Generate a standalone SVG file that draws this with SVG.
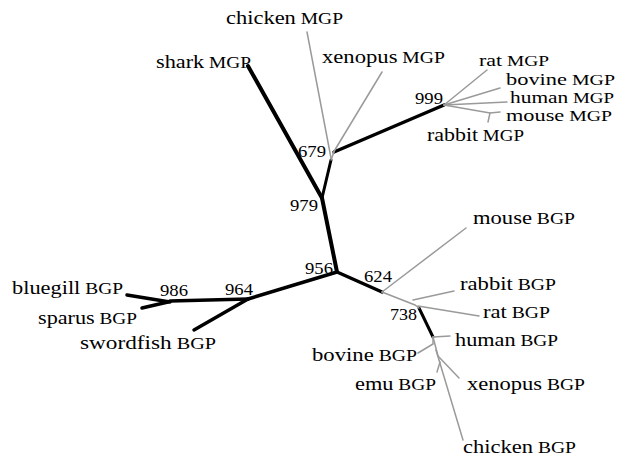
<svg xmlns="http://www.w3.org/2000/svg" width="617" height="460" viewBox="0 0 617 460">
  <style>
    text { font-family: "Liberation Serif", "Times New Roman", serif; fill: #000; }
    .sp { font-size: 19px; }
    .gp { font-size: 16.5px; }
    .stack .sp { font-size: 17.5px; }
    .stack .gp { font-size: 15.5px; }
    .bs { font-size: 16px; }
    .strong { stroke: #000; stroke-width: 3.5; stroke-linecap: round; fill: none; }
    .weak { stroke: #9a9a9a; stroke-width: 1.5; stroke-linecap: round; fill: none; }
  </style>
  <rect width="617" height="460" fill="#fff"/>

  <!-- tree branches -->
  <g id="connectors">
    <!-- strongly supported branches -->
    <line class="strong" x1="337" y1="272" x2="322" y2="198" style="stroke-width:4"/>
    <line class="strong" x1="322" y1="198" x2="248" y2="66" style="stroke-width:4"/>
    <line class="strong" x1="322" y1="198" x2="331" y2="160" style="stroke-width:3"/>
    <line class="strong" x1="334" y1="152" x2="444" y2="105"/>
    <line class="strong" x1="337" y1="272" x2="248" y2="299"/>
    <line class="strong" x1="248" y1="299" x2="170" y2="301"/>
    <line class="strong" x1="248" y1="299" x2="194" y2="330"/>
    <line class="strong" x1="170" y1="302" x2="127" y2="295"/>
    <line class="strong" x1="168" y1="302" x2="142" y2="308"/>
    <line class="strong" x1="337" y1="272" x2="382" y2="292"/>
    <line class="strong" x1="419" y1="308" x2="433" y2="337" style="stroke-width:3"/>

    <!-- MGP clade, weak branches -->
    <line class="weak" x1="331" y1="160" x2="334" y2="152"/>
    <line class="weak" x1="331" y1="158" x2="307" y2="32"/>
    <line class="weak" x1="333" y1="153" x2="382" y2="72"/>
    <line class="weak" x1="444" y1="105" x2="487" y2="70"/>
    <line class="weak" x1="444" y1="105" x2="500" y2="88"/>
    <line class="weak" x1="444" y1="105" x2="507" y2="102"/>
    <polyline class="weak" points="444,105 490,113 500,112"/>
    <line class="weak" x1="490" y1="113" x2="488" y2="122"/>

    <!-- BGP clade, weak branches -->
    <line class="weak" x1="382" y1="292" x2="466" y2="228"/>
    <polyline class="weak" points="382,292 415,305 419,308"/>
    <line class="weak" x1="413" y1="300" x2="454" y2="291"/>
    <line class="weak" x1="418" y1="306" x2="479" y2="316"/>
    <line class="weak" x1="433" y1="337" x2="450" y2="336"/>
    <polyline class="weak" points="433,337 433,344 418,353"/>
    <line class="weak" x1="433" y1="337" x2="438" y2="356"/>
    <line class="weak" x1="438" y1="356" x2="459" y2="378"/>
    <line class="weak" x1="436" y1="350" x2="463" y2="440"/>
    <line class="weak" x1="440" y1="362" x2="437" y2="372"/>
  </g>

  <!-- bootstrap values -->
  <g id="n999"><text class="bs" x="415" y="104" textLength="28" lengthAdjust="spacingAndGlyphs">999</text></g>
  <g id="n679"><text class="bs" x="298" y="157" textLength="28" lengthAdjust="spacingAndGlyphs">679</text></g>
  <g id="n979"><text class="bs" x="290" y="211" textLength="28" lengthAdjust="spacingAndGlyphs">979</text></g>
  <g id="n956"><text class="bs" x="305" y="274" textLength="28" lengthAdjust="spacingAndGlyphs">956</text></g>
  <g id="n624"><text class="bs" x="364" y="282" textLength="28" lengthAdjust="spacingAndGlyphs">624</text></g>
  <g id="n738"><text class="bs" x="390" y="320" textLength="27" lengthAdjust="spacingAndGlyphs">738</text></g>
  <g id="n986"><text class="bs" x="160" y="296" textLength="28" lengthAdjust="spacingAndGlyphs">986</text></g>
  <g id="n964"><text class="bs" x="225" y="295" textLength="28" lengthAdjust="spacingAndGlyphs">964</text></g>

  <!-- MGP sequences -->
  <g id="chicken-mgp"><text x="226" y="24" textLength="117" lengthAdjust="spacingAndGlyphs"><tspan class="sp">chicken</tspan><tspan class="gp"> MGP</tspan></text></g>
  <g id="shark-mgp"><text x="156" y="68" textLength="95" lengthAdjust="spacingAndGlyphs"><tspan class="sp">shark</tspan><tspan class="gp"> MGP</tspan></text></g>
  <g id="xenopus-mgp"><text x="322" y="63" textLength="123" lengthAdjust="spacingAndGlyphs"><tspan class="sp">xenopus</tspan><tspan class="gp"> MGP</tspan></text></g>
  <g id="rat-mgp" class="stack"><text x="479" y="66" textLength="70" lengthAdjust="spacingAndGlyphs"><tspan class="sp">rat</tspan><tspan class="gp"> MGP</tspan></text></g>
  <g id="bovine-mgp" class="stack"><text x="506" y="85" textLength="109" lengthAdjust="spacingAndGlyphs"><tspan class="sp">bovine</tspan><tspan class="gp"> MGP</tspan></text></g>
  <g id="human-mgp" class="stack"><text x="510" y="103" textLength="104" lengthAdjust="spacingAndGlyphs"><tspan class="sp">human</tspan><tspan class="gp"> MGP</tspan></text></g>
  <g id="mouse-mgp" class="stack"><text x="506" y="121" textLength="106" lengthAdjust="spacingAndGlyphs"><tspan class="sp">mouse</tspan><tspan class="gp"> MGP</tspan></text></g>
  <g id="rabbit-mgp"><text x="427" y="141" textLength="97" lengthAdjust="spacingAndGlyphs"><tspan class="sp">rabbit</tspan><tspan class="gp"> MGP</tspan></text></g>

  <!-- BGP sequences -->
  <g id="mouse-bgp"><text x="473" y="224" textLength="102" lengthAdjust="spacingAndGlyphs"><tspan class="sp">mouse</tspan><tspan class="gp"> BGP</tspan></text></g>
  <g id="rabbit-bgp"><text x="460" y="290" textLength="96" lengthAdjust="spacingAndGlyphs"><tspan class="sp">rabbit</tspan><tspan class="gp"> BGP</tspan></text></g>
  <g id="rat-bgp"><text x="483" y="318" textLength="67" lengthAdjust="spacingAndGlyphs"><tspan class="sp">rat</tspan><tspan class="gp"> BGP</tspan></text></g>
  <g id="human-bgp"><text x="455" y="346" textLength="103" lengthAdjust="spacingAndGlyphs"><tspan class="sp">human</tspan><tspan class="gp"> BGP</tspan></text></g>
  <g id="bovine-bgp"><text x="312" y="361" textLength="105" lengthAdjust="spacingAndGlyphs"><tspan class="sp">bovine</tspan><tspan class="gp"> BGP</tspan></text></g>
  <g id="emu-bgp"><text x="355" y="390" textLength="81" lengthAdjust="spacingAndGlyphs"><tspan class="sp">emu</tspan><tspan class="gp"> BGP</tspan></text></g>
  <g id="xenopus-bgp"><text x="467" y="390" textLength="118" lengthAdjust="spacingAndGlyphs"><tspan class="sp">xenopus</tspan><tspan class="gp"> BGP</tspan></text></g>
  <g id="chicken-bgp"><text x="463" y="453" textLength="113" lengthAdjust="spacingAndGlyphs"><tspan class="sp">chicken</tspan><tspan class="gp"> BGP</tspan></text></g>
  <g id="bluegill-bgp"><text x="12" y="294" textLength="111" lengthAdjust="spacingAndGlyphs"><tspan class="sp">bluegill</tspan><tspan class="gp"> BGP</tspan></text></g>
  <g id="sparus-bgp"><text x="38" y="324" textLength="99" lengthAdjust="spacingAndGlyphs"><tspan class="sp">sparus</tspan><tspan class="gp"> BGP</tspan></text></g>
  <g id="swordfish-bgp"><text x="80" y="349" textLength="136" lengthAdjust="spacingAndGlyphs"><tspan class="sp">swordfish</tspan><tspan class="gp"> BGP</tspan></text></g>
</svg>
